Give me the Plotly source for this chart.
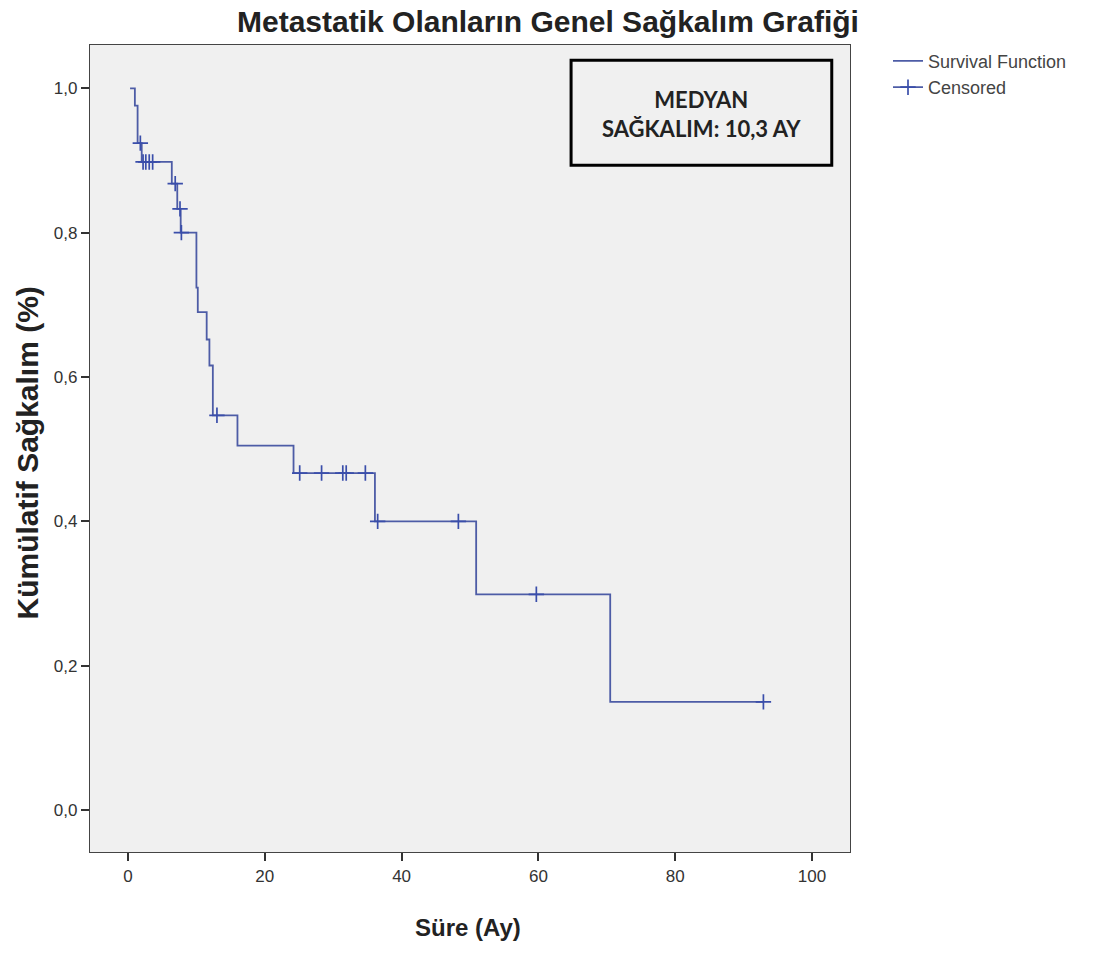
import plotly.graph_objects as go

# Kaplan-Meier step values
step_times = [0.3, 1.0, 1.4, 2.0, 6.4, 7.2, 7.7, 10.0, 10.2, 11.5, 11.9, 12.4, 16.0, 24.2, 36.1, 50.9, 70.5, 92.9]
step_surv = [1.0, 0.976, 0.924, 0.898, 0.868, 0.833, 0.800, 0.724, 0.690, 0.652, 0.616, 0.547, 0.505, 0.467, 0.400, 0.299, 0.150, 0.150]

# Censored observations
censor_times = [1.8, 2.2, 2.6, 3.1, 3.6, 6.9, 7.6, 7.8, 13.0, 25.1, 28.3, 31.4, 31.9, 34.7, 36.5, 48.3, 59.7, 92.9]
censor_surv = [0.924, 0.898, 0.898, 0.898, 0.898, 0.868, 0.833, 0.800, 0.547, 0.467, 0.467, 0.467, 0.467, 0.467, 0.400, 0.400, 0.299, 0.150]

x_ticks = [0, 20, 40, 60, 80, 100]
y_ticks = [0.0, 0.2, 0.4, 0.6, 0.8, 1.0]
y_tick_labels = ["0,0", "0,2", "0,4", "0,6", "0,8", "1,0"]

LINE = "#4d5ca6"
MARK = "#3a4eaa"

fig = go.Figure()
fig.add_trace(go.Scatter(
    x=step_times, y=step_surv, mode="lines", line_shape="hv",
    line=dict(color=LINE, width=1.8), name="Survival Function", legendgroup="a"))
fig.add_trace(go.Scatter(
    x=censor_times, y=censor_surv, mode="markers", showlegend=False,
    marker=dict(symbol="cross-thin", size=11, line=dict(width=1.7, color=MARK))))
fig.add_trace(go.Scatter(
    x=[None], y=[None], mode="lines+markers", name="Censored", legendgroup="b",
    line=dict(color=LINE, width=1.8),
    marker=dict(symbol="cross-thin", size=11, line=dict(width=1.7, color=MARK))))

fig.update_layout(
    width=1097, height=953,
    margin=dict(l=90, r=247, t=45, b=101),
    paper_bgcolor="white", plot_bgcolor="#f0f0f0",
    font=dict(family="Liberation Sans, Arial, sans-serif", color="#333"),
    legend=dict(x=1.05, y=1.003, xanchor="left", yanchor="top",
                font=dict(size=18, color="#444"), tracegroupgap=0,
                itemwidth=30, bgcolor="rgba(0,0,0,0)"),
    xaxis=dict(range=[-5.56, 105.56], tickvals=x_ticks, ticks="outside",
               ticklen=8, tickwidth=1.5, tickcolor="#333", showgrid=False,
               zeroline=False, showline=True, mirror=True, linecolor="#444",
               linewidth=1.3, tickfont=dict(size=17, color="#333")),
    yaxis=dict(range=[-0.058, 1.06], tickvals=y_ticks, ticktext=y_tick_labels,
               ticks="outside", ticklen=8, tickwidth=1.5, tickcolor="#333",
               showgrid=False, zeroline=False, showline=True, mirror=True,
               linecolor="#444", linewidth=1.3, tickfont=dict(size=17, color="#333")),
    shapes=[dict(type="rect", xref="paper", yref="paper",
                 x0=0.633, x1=0.976, y0=0.851, y1=0.981,
                 line=dict(color="black", width=3), fillcolor="#f0f0f0")],
    annotations=[
        dict(text="<b>MEDYAN</b><br><b>SAĞKALIM: 10,3 AY</b>", xref="paper", yref="paper",
             x=0.804, y=0.914, xanchor="center", yanchor="middle",
             showarrow=False, align="center",
             font=dict(family="Lato, Liberation Sans, sans-serif", size=22, color="#222")),
        dict(text="<b>Metastatik Olanların Genel Sağkalım Grafiği</b>", xref="paper", yref="paper",
             x=0.603, y=1.0297, xanchor="center", yanchor="middle", showarrow=False,
             font=dict(size=30, color="#222")),
        dict(text="<b>Süre (Ay)</b>", xref="paper", yref="paper",
             x=0.497, y=-0.094, xanchor="center", yanchor="middle", showarrow=False,
             font=dict(size=24, color="#222")),
        dict(text="<b>Kümülatif Sağkalım (%)</b>", xref="paper", yref="paper",
             x=-0.0816, y=0.495, xanchor="center", yanchor="middle", textangle=-90,
             showarrow=False, font=dict(size=30, color="#222")),
    ],
)

fig.write_html("out.html")
